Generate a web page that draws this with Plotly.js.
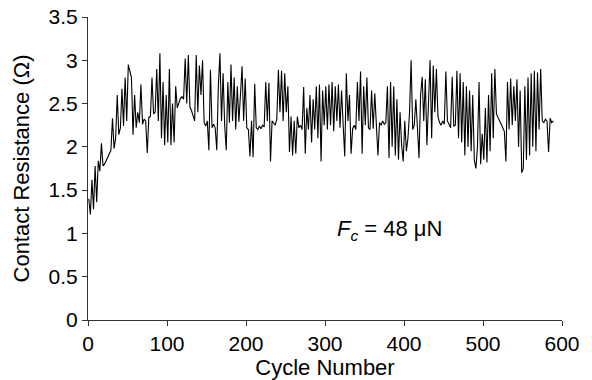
<!DOCTYPE html>
<html>
<head>
<meta charset="utf-8">
<script src="https://cdn.plot.ly/plotly-3.0.1.min.js"></script>
<style>html,body{margin:0;padding:0;background:#fff;}#chart{width:592px;height:380px;}</style>
</head>
<body>
<div id="chart"></div>
<script>
// Contact resistance (Ohm) sampled every 2 cycles, starting at cycle 1
var firstCycle = 1;
var cycleStep = 2;
var resistance = [
  1.40, 1.22, 1.62, 1.28, 1.78, 1.36, 1.84, 1.72, 2.04, 1.78,
  1.80, 1.84, 1.88, 1.93, 1.96,
  2.33, 1.98, 2.10, 2.60, 2.14,
  2.22, 2.67, 2.24, 2.80, 2.30,
  2.95, 2.88, 2.80, 2.14, 2.60,
  2.22, 2.40, 2.28, 2.72, 2.26,
  2.32, 2.30, 1.93, 2.34, 2.35,
  2.80, 2.38, 2.40, 2.90, 2.30,
  3.08, 2.10, 2.75, 2.02, 2.60,
  2.05, 2.90, 2.02, 2.50, 2.05,
  2.70, 2.45, 2.52, 2.56, 2.58,
  2.55, 3.02, 2.50, 3.06, 2.46,
  2.42, 2.36, 2.30, 3.06, 2.40,
  2.94, 2.60, 3.00, 2.28, 2.24,
  2.30, 1.96, 2.89, 2.22, 2.26,
  2.22, 1.96, 2.70, 3.08, 2.30,
  2.85, 2.25, 1.96, 2.75, 2.28,
  2.95, 2.30, 2.80, 2.20, 2.70,
  2.29, 2.60, 2.93, 2.30, 2.79,
  2.22, 2.20, 1.89, 2.30, 1.88,
  2.73, 2.22, 2.20, 2.24, 2.21,
  2.25, 2.23, 2.75, 2.30, 2.74,
  1.83, 2.30, 2.28, 2.25, 2.32,
  2.89, 2.40, 2.88, 2.30, 2.85,
  2.40, 2.70, 1.94, 2.35, 1.90,
  2.30, 1.92, 2.35, 2.22, 2.25,
  2.20, 2.69, 1.92, 2.45, 2.20,
  2.60, 2.05, 2.55, 2.20, 2.70,
  2.10, 2.72, 1.83, 2.65, 2.25,
  2.70, 2.20, 2.72, 2.25, 2.75,
  2.18, 2.70, 2.30, 2.72, 2.22,
  2.65, 2.25, 1.89, 2.85, 2.30,
  2.60, 1.92, 2.21, 2.25, 2.20,
  2.75, 2.30, 2.87, 1.92, 2.70,
  2.25, 2.80, 2.22, 2.20, 2.65,
  2.21, 2.62, 2.20, 1.90, 2.28,
  2.25, 2.30, 2.26, 2.28, 2.70,
  1.87, 2.75, 2.00, 2.70, 1.90,
  2.55, 1.85, 2.40, 2.02, 1.83,
  2.30, 1.95, 2.10, 2.40, 3.00,
  2.20, 2.25, 2.55, 2.22, 1.87,
  2.60, 2.81, 2.30, 2.78, 2.02,
  2.50, 3.00, 2.10, 2.94, 2.40,
  2.90, 2.35, 2.28, 2.25, 2.30,
  2.26, 2.87, 2.30, 2.25, 2.22,
  2.81, 2.24, 2.25, 2.88, 2.10,
  2.85, 2.05, 2.75, 1.90, 2.70,
  2.00, 2.65, 1.95, 2.60, 1.85,
  1.75, 2.00, 2.75, 1.80, 2.15,
  1.85, 2.45, 1.82, 2.60, 1.95,
  2.85, 2.10, 2.90, 2.38, 2.33,
  2.30, 2.26, 2.22, 2.18, 1.83,
  2.75, 2.20, 2.79, 2.25, 2.70,
  2.30, 2.78, 2.00, 2.65, 1.70,
  1.75, 2.70, 1.85, 2.80, 1.90,
  2.85, 2.00, 2.88, 1.95, 2.86,
  2.20, 2.90, 2.30, 2.28, 2.32,
  2.30, 1.94, 2.33, 2.28, 2.30
];
var xTitle = 'Cycle Number';
var yTitle = 'Contact Resistance (\u03A9)';
var noteText = '<i>F<sub>c</sub></i> = 48 \u03BCN';
var noteX = 382;
var noteY = 1.04;

var trace = {
  type: 'scatter', mode: 'lines',
  x0: firstCycle, dx: cycleStep, y: resistance,
  line: {color: '#000', width: 1.1},
  hoverinfo: 'skip'
};
var tickFont = {family: 'Liberation Sans, Arial, sans-serif', size: 21, color: '#000'};
var titleFont = {family: 'Liberation Sans, Arial, sans-serif', size: 22, color: '#000'};
var layout = {
  width: 592, height: 380,
  margin: {l: 88, r: 30, t: 17, b: 60},
  paper_bgcolor: '#fff', plot_bgcolor: '#fff',
  showlegend: false,
  font: tickFont,
  xaxis: {
    range: [0, 600], dtick: 100, tick0: 0,
    showgrid: false, zeroline: false,
    showline: true, linecolor: '#333', linewidth: 1,
    ticks: 'outside', ticklen: 5, tickcolor: '#333',
    tickfont: tickFont,
    title: {text: xTitle, font: titleFont, standoff: 0}
  },
  yaxis: {
    range: [0, 3.5], dtick: 0.5, tick0: 0,
    showgrid: false, zeroline: false,
    showline: true, linecolor: '#333', linewidth: 1,
    ticks: 'outside', ticklen: 5, tickcolor: '#333',
    tickfont: tickFont,
    title: {text: yTitle, font: titleFont, standoff: 12}
  },
  annotations: [{
    x: noteX, y: noteY, xref: 'x', yref: 'y',
    text: noteText, showarrow: false,
    font: {family: 'Liberation Sans, Arial, sans-serif', size: 22, color: '#000'}
  }]
};
Plotly.newPlot('chart', [trace], layout, {staticPlot: true, displayModeBar: false});
</script>
</body>
</html>
